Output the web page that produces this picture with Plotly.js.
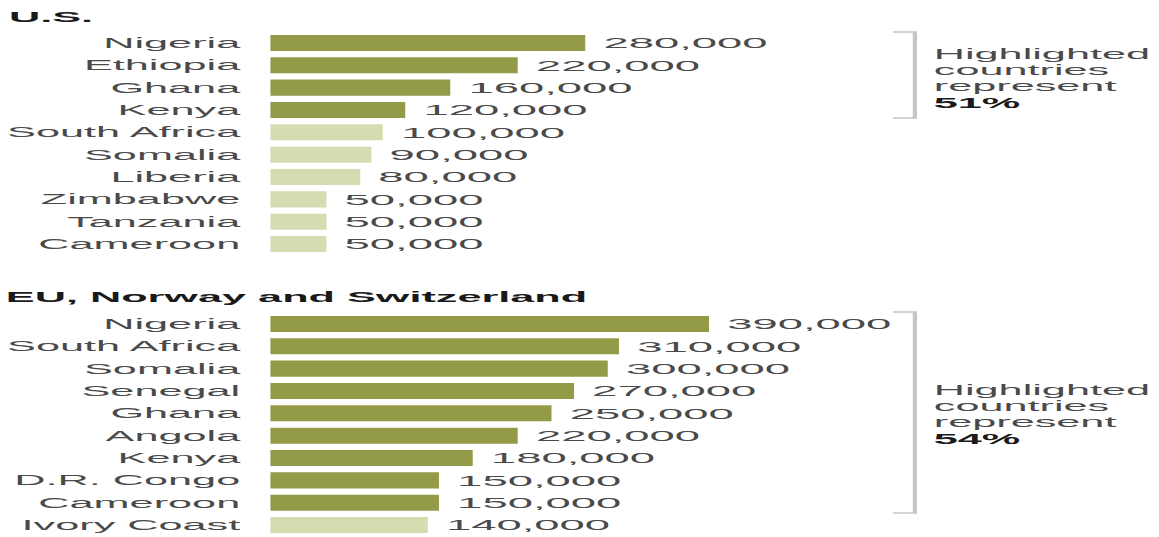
<!DOCTYPE html>
<html>
<head>
<meta charset="utf-8">
<script src="https://cdn.plot.ly/plotly-3.0.1.min.js"></script>
<style>
  html, body { margin: 0; padding: 0; background: #fff; overflow: hidden; }
  #chart { width: 386px; height: 537px; transform: scaleX(3.0026); transform-origin: 0 0; }
</style>
</head>
<body>
<div id="chart"></div>
<script>
// ---- data ----
const usCountries = ["Nigeria", "Ethiopia", "Ghana", "Kenya", "South Africa", "Somalia", "Liberia", "Zimbabwe", "Tanzania", "Cameroon"];
const usValues = [280000, 220000, 160000, 120000, 100000, 90000, 80000, 50000, 50000, 50000];
const usHighlighted = [true, true, true, true, false, false, false, false, false, false];

const euCountries = ["Nigeria", "South Africa", "Somalia", "Senegal", "Ghana", "Angola", "Kenya", "D.R. Congo", "Cameroon", "Ivory Coast"];
const euValues = [390000, 310000, 300000, 270000, 250000, 220000, 180000, 150000, 150000, 140000];
const euHighlighted = [true, true, true, true, true, true, true, true, true, false];

const usTitle = "U.S.";
const euTitle = "EU, Norway and Switzerland";
const usShare = "51%";
const euShare = "54%";
const noteLines = ["Highlighted", "countries", "represent"];

// ---- styling ----
const DARK = "rgb(148,155,72)";
const LIGHT = "rgb(214,220,178)";
const FONT = "Liberation Sans, Arial, sans-serif";
const W = 386, H = 537;
const px = v => v / W;          // pixel x -> paper
const py = v => 1 - v / H;      // pixel y -> paper
const fmt = v => "\u2009" + v.toLocaleString("en-US");

function barTrace(cats, vals, hl, xa, ya) {
  return {
    type: "bar", orientation: "h",
    x: vals, y: cats, xaxis: xa, yaxis: ya,
    marker: { color: hl.map(h => h ? DARK : LIGHT), line: { width: 0 } },
    text: vals.map(fmt), textposition: "outside", cliponaxis: false,
    textfont: { family: FONT, size: 16, color: "#4a4a4a" },
    hoverinfo: "skip"
  };
}

const data = [
  barTrace(usCountries, usValues, usHighlighted, "x", "y"),
  barTrace(euCountries, euValues, euHighlighted, "x2", "y2")
];

const xCommon = { range: [0, 790000], visible: false, showgrid: false, zeroline: false, fixedrange: true };
const yCommon = {
  type: "category", range: [9.5, -0.5], showgrid: false, zeroline: false, showline: false,
  ticks: "", ticklabelstandoff: 9,
  tickfont: { family: FONT, size: 14.4, color: "#4a4a4a" }
};

const annotations = [
  { text: "<b>" + usTitle + "</b>", x: px(0.5), y: py(17) },
  { text: "<b>" + euTitle + "</b>", x: px(0), y: py(297) }
].map(a => Object.assign(a, { xref: "paper", yref: "paper", xanchor: "left", yanchor: "middle", showarrow: false,
  font: { family: FONT, size: 14.4, color: "#1a1a1a" } }));

function note(centers, share) {
  const out = [];
  noteLines.concat(["<b>" + share + "</b>"]).forEach((t, i) => {
    out.push({ text: t, x: px(309.3), y: py(centers[i]), xref: "paper", yref: "paper",
      xanchor: "left", yanchor: "middle", showarrow: false,
      font: { family: FONT, size: 14.4, color: i === 3 ? "#1a1a1a" : "#4a4a4a" } });
  });
  return out;
}
annotations.push(...note([53.5, 70, 86.3, 102.5], usShare));
annotations.push(...note([389.5, 406, 422.3, 438.5], euShare));

function bracket(top, bottom) {
  const l = px(297.4), r = px(304.7);
  return { type: "path", xref: "paper", yref: "paper",
    path: `M ${l} ${py(top)} L ${r} ${py(top)} L ${r} ${py(bottom)} L ${l} ${py(bottom)}`,
    line: { color: "#c6c6c6", width: 1.4 } };
}

const layout = {
  width: W, height: H,
  margin: { l: 0, r: 0, t: 0, b: 0 },
  paper_bgcolor: "#fff", plot_bgcolor: "#fff",
  showlegend: false, bargap: 0.28,
  font: { family: FONT },
  xaxis: Object.assign({}, xCommon, { domain: [px(90), 1], anchor: "y" }),
  xaxis2: Object.assign({}, xCommon, { domain: [px(90), 1], anchor: "y2" }),
  yaxis: Object.assign({}, yCommon, { domain: [py(255.2), py(31.8)], anchor: "x" }),
  yaxis2: Object.assign({}, yCommon, { domain: [py(536.2), py(312.8)], anchor: "x2" }),
  annotations: annotations,
  shapes: [bracket(32, 118), bracket(312, 513)]
};

Plotly.newPlot("chart", data, layout, { staticPlot: true, displayModeBar: false, responsive: false });
</script>
</body>
</html>
